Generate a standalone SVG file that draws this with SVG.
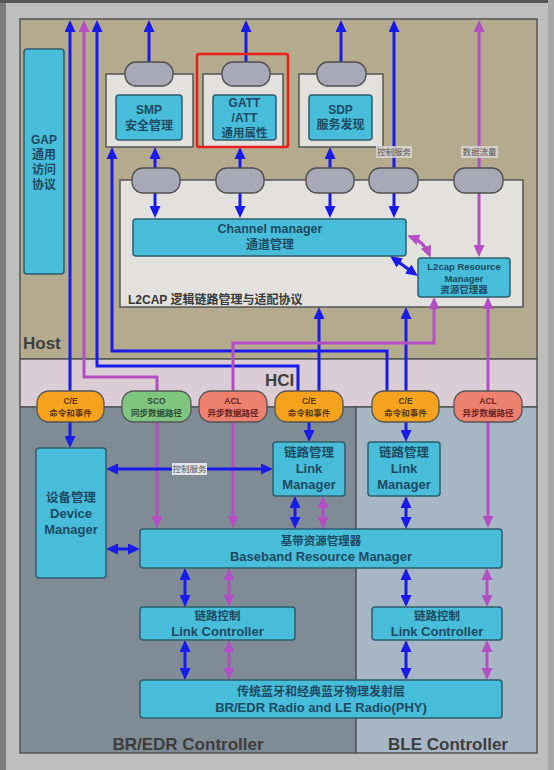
<svg xmlns="http://www.w3.org/2000/svg" width="554" height="770" viewBox="0 0 554 770">
<style>
.reg{stroke:#555;stroke-width:1.5}
.cont{fill:#e2e1de;stroke:#555;stroke-width:1.5}
.cap{fill:#a9a8b6;stroke:#505050;stroke-width:1.3}
.box{fill:#47bdd9;stroke:#2e5e6e;stroke-width:1.5}
.pill{stroke:#555;stroke-width:1.3}
.b{fill:none;stroke:#1a1aeb;stroke-width:3}
.m{fill:none;stroke:#b34ec5;stroke-width:3}
.t{font-family:"Liberation Sans","Noto Sans CJK SC",sans-serif;font-weight:bold;fill:#1e4a63;text-anchor:middle}
.big{font-family:"Liberation Sans","Noto Sans CJK SC",sans-serif;font-weight:bold;fill:#3d3d3d;font-size:17px}
.pt{font-family:"Liberation Sans","Noto Sans CJK SC",sans-serif;font-weight:bold;font-size:8.5px;text-anchor:middle}
.lbl{font-family:"Liberation Sans","Noto Sans CJK SC",sans-serif;font-size:8.5px;fill:#555;text-anchor:middle}
</style>
<defs>
<marker id="ab" viewBox="0 0 12 11" refX="8" refY="5.5" markerWidth="12" markerHeight="11" markerUnits="userSpaceOnUse" orient="auto-start-reverse"><path d="M0,0 L12,5.5 L0,11 z" fill="#1a1aeb"/></marker>
<marker id="am" viewBox="0 0 12 11" refX="8" refY="5.5" markerWidth="12" markerHeight="11" markerUnits="userSpaceOnUse" orient="auto-start-reverse"><path d="M0,0 L12,5.5 L0,11 z" fill="#b34ec5"/></marker>
</defs>

<g id="background">
<rect x="0" y="0" width="554" height="770" fill="#bebebe"/>
<rect x="0" y="0" width="6" height="770" fill="#7c7c7c"/>
<rect x="0" y="0" width="554" height="3" fill="#555"/>
<rect x="548" y="0" width="6" height="770" fill="#a8a8a8"/>
</g>

<g id="host-region"><rect class="reg" x="20" y="19" width="517" height="340" fill="#b4aa8e"/><text class="big" x="23" y="349">Host</text></g>
<g id="hci-region"><rect class="reg" x="20" y="359" width="517" height="48" fill="#dacdd5"/><text class="big" x="265" y="386">HCI</text></g>
<g id="bredr-region"><rect class="reg" x="20" y="407" width="336" height="346" fill="#7f8c96"/><text class="big" x="188" y="750" text-anchor="middle">BR/EDR Controller</text></g>
<g id="ble-region"><rect class="reg" x="356" y="407" width="181" height="346" fill="#a7b6c4"/><text class="big" x="388" y="750">BLE Controller</text></g>

<g id="gap"><rect class="box" x="24" y="49" width="40" height="225" rx="3"/>
<text class="t" font-size="12" x="44" y="144">GAP</text><text class="t" font-size="12" x="44" y="159">通用</text><text class="t" font-size="12" x="44" y="174">访问</text><text class="t" font-size="12" x="44" y="189">协议</text></g>

<g id="smp-container"><rect class="cont" x="106" y="74" width="87" height="73"/></g>
<g id="gatt-container"><rect class="cont" x="203" y="74" width="80" height="73"/></g>
<g id="sdp-container"><rect class="cont" x="299" y="74" width="84" height="73"/></g>
<g id="l2cap"><rect class="cont" x="120" y="180" width="403" height="127"/>
<text x="128" y="304" font-family="Liberation Sans, Noto Sans CJK SC, sans-serif" font-weight="bold" font-size="12" fill="#383838">L2CAP 逻辑链路管理与适配协议</text></g>

<g id="connectors">
<path class="b" d="M70,24 V444" marker-start="url(#ab)" marker-end="url(#ab)"/>
<path class="m" d="M84,24 V377 H157 V524" marker-start="url(#am)" marker-end="url(#am)"/>
<path class="b" d="M97,24 V366 H298 V398" marker-start="url(#ab)"/>
<path class="b" d="M112,151 V351 H387 V398" marker-start="url(#ab)"/>
<path class="b" d="M149,64 V24" marker-end="url(#ab)"/>
<path class="b" d="M246,64 V24" marker-end="url(#ab)"/>
<path class="b" d="M341,64 V24" marker-end="url(#ab)"/>
<path class="b" d="M394,172 V24" marker-end="url(#ab)"/>
<path class="m" d="M479,172 V24" marker-end="url(#am)"/>
<path class="b" d="M155,170 V151" marker-end="url(#ab)"/>
<path class="b" d="M240,170 V151" marker-end="url(#ab)"/>
<path class="b" d="M330,170 V151" marker-end="url(#ab)"/>
<path class="b" d="M155,191 V214" marker-end="url(#ab)"/>
<path class="b" d="M240,191 V214" marker-end="url(#ab)"/>
<path class="b" d="M330,191 V214" marker-end="url(#ab)"/>
<path class="b" d="M394,191 V214" marker-end="url(#ab)"/>
<path class="m" d="M479,191 V253" marker-end="url(#am)"/>
<path class="b" d="M393.3,258.3 L414.7,273.7" marker-start="url(#ab)" marker-end="url(#ab)"/>
<path class="m" d="M411,237 Q424,242 429,254" marker-start="url(#am)" marker-end="url(#am)"/>
<path class="b" d="M319,398 V311" marker-end="url(#ab)"/>
<path class="b" d="M406,311 V438" marker-start="url(#ab)" marker-end="url(#ab)"/>
<path class="m" d="M434,301 V343 H233 V524" marker-start="url(#am)" marker-end="url(#am)"/>
<path class="m" d="M488,301 V524" marker-start="url(#am)" marker-end="url(#am)"/>
<path class="b" d="M309,418 V438" marker-end="url(#ab)"/>
<path class="b" d="M110,469 H269" marker-start="url(#ab)" marker-end="url(#ab)"/>
<path class="b" d="M295,500 V525" marker-start="url(#ab)" marker-end="url(#ab)"/>
<path class="m" d="M323,500 V525" marker-start="url(#am)" marker-end="url(#am)"/>
<path class="b" d="M406,500 V525" marker-start="url(#ab)" marker-end="url(#ab)"/>
<path class="b" d="M110,549 H136" marker-start="url(#ab)" marker-end="url(#ab)"/>
<path class="b" d="M185,572 V603" marker-start="url(#ab)" marker-end="url(#ab)"/>
<path class="m" d="M229,572 V603" marker-start="url(#am)" marker-end="url(#am)"/>
<path class="b" d="M406,572 V603" marker-start="url(#ab)" marker-end="url(#ab)"/>
<path class="m" d="M487,572 V603" marker-start="url(#am)" marker-end="url(#am)"/>
<path class="b" d="M185,644 V676" marker-start="url(#ab)" marker-end="url(#ab)"/>
<path class="m" d="M229,644 V676" marker-start="url(#am)" marker-end="url(#am)"/>
<path class="b" d="M406,644 V676" marker-start="url(#ab)" marker-end="url(#ab)"/>
<path class="m" d="M487,644 V676" marker-start="url(#am)" marker-end="url(#am)"/>
<rect x="376" y="146" width="36" height="12" fill="#d8d6d2" opacity="0.85"/><text class="lbl" x="394" y="155">控制服务</text>
<rect x="461" y="146" width="37" height="12" fill="#d8d6d2" opacity="0.85"/><text class="lbl" x="479.5" y="155">数据流量</text>
<rect x="172" y="463" width="35" height="12" fill="#e4e4e8"/><text class="lbl" x="189.5" y="472">控制服务</text>
</g>

<g id="smp"><rect class="cap" x="125" y="62" width="48" height="24" rx="11"/><rect class="box" x="116" y="95" width="66" height="45" rx="3"/>
<text class="t" font-size="12" x="149" y="114">SMP</text><text class="t" font-size="12" x="149" y="130">安全管理</text></g>
<g id="gatt"><rect class="cap" x="222" y="62" width="48" height="24" rx="11"/><rect class="box" x="213" y="95" width="63" height="45" rx="3"/>
<text class="t" font-size="12" x="244.5" y="107">GATT</text><text class="t" font-size="12" x="244.5" y="122">/ATT</text><text class="t" font-size="11.5" x="244.5" y="137">通用属性</text></g>
<g id="sdp"><rect class="cap" x="317" y="62" width="49" height="24" rx="11"/><rect class="box" x="309" y="95" width="63" height="45" rx="3"/>
<text class="t" font-size="12" x="340.5" y="114">SDP</text><text class="t" font-size="12" x="340.5" y="129">服务发现</text></g>
<g id="highlight"><rect x="197" y="54" width="91" height="93" rx="2" fill="none" stroke="#e8201c" stroke-width="2.5"/></g>

<g id="l2cap-caps">
<rect class="cap" x="132" y="168" width="48" height="25" rx="11"/>
<rect class="cap" x="216" y="168" width="48" height="25" rx="11"/>
<rect class="cap" x="306" y="168" width="48" height="25" rx="11"/>
<rect class="cap" x="369" y="168" width="49" height="25" rx="11"/>
<rect class="cap" x="454" y="168" width="49" height="25" rx="11"/>
</g>
<g id="channel-manager"><rect class="box" x="133" y="219" width="273" height="37" rx="3"/>
<text class="t" font-size="12.5" x="270" y="233">Channel manager</text><text class="t" font-size="12" x="270" y="249">通道管理</text></g>
<g id="l2cap-resource-manager"><rect class="box" x="418" y="258" width="92" height="39" rx="3"/>
<text class="t" font-size="9.5" x="464" y="270">L2cap Resource</text><text class="t" font-size="9.5" x="464" y="281.5">Manager</text><text class="t" font-size="9.5" x="464" y="293">资源管理器</text></g>

<g id="ce1"><rect class="pill" x="37" y="391" width="67" height="31" rx="12" fill="#f5a31c"/><text class="pt" x="70.5" y="404" fill="#5a3a10">C/E</text><text class="pt" x="70.5" y="416" fill="#5a3a10">命令和事件</text></g>
<g id="sco"><rect class="pill" x="122" y="391" width="69" height="31" rx="12" fill="#7fc57f"/><text class="pt" x="156.5" y="404" fill="#2f4f30">SCO</text><text class="pt" x="156.5" y="416" fill="#2f4f30">同步数据路径</text></g>
<g id="acl1"><rect class="pill" x="199" y="391" width="68" height="31" rx="12" fill="#ee8070"/><text class="pt" x="233" y="404" fill="#6a2420">ACL</text><text class="pt" x="233" y="416" fill="#6a2420">异步数据路径</text></g>
<g id="ce2"><rect class="pill" x="275" y="391" width="68" height="31" rx="12" fill="#f5a31c"/><text class="pt" x="309" y="404" fill="#5a3a10">C/E</text><text class="pt" x="309" y="416" fill="#5a3a10">命令和事件</text></g>
<g id="ce3"><rect class="pill" x="372" y="391" width="67" height="31" rx="12" fill="#f5a31c"/><text class="pt" x="405.5" y="404" fill="#5a3a10">C/E</text><text class="pt" x="405.5" y="416" fill="#5a3a10">命令和事件</text></g>
<g id="acl2"><rect class="pill" x="454" y="391" width="68" height="31" rx="12" fill="#ee8070"/><text class="pt" x="488" y="404" fill="#6a2420">ACL</text><text class="pt" x="488" y="416" fill="#6a2420">异步数据路径</text></g>

<g id="device-manager"><rect class="box" x="36" y="448" width="70" height="130" rx="3"/>
<text class="t" font-size="12.5" x="71" y="502">设备管理</text><text class="t" font-size="13" x="71" y="518">Device</text><text class="t" font-size="13" x="71" y="533.5">Manager</text></g>
<g id="link-manager-bredr"><rect class="box" x="273" y="442" width="72" height="54" rx="3"/>
<text class="t" font-size="12.5" x="309" y="457">链路管理</text><text class="t" font-size="13" x="309" y="473">Link</text><text class="t" font-size="13" x="309" y="488.5">Manager</text></g>
<g id="link-manager-ble"><rect class="box" x="368" y="442" width="72" height="54" rx="3"/>
<text class="t" font-size="12.5" x="404" y="457">链路管理</text><text class="t" font-size="13" x="404" y="473">Link</text><text class="t" font-size="13" x="404" y="488.5">Manager</text></g>
<g id="baseband"><rect class="box" x="140" y="529" width="362" height="39" rx="3"/>
<text class="t" font-size="11.5" x="321" y="544.5">基带资源管理器</text><text class="t" font-size="13" x="321" y="560.5">Baseband Resource Manager</text></g>
<g id="link-controller-bredr"><rect class="box" x="140" y="607" width="155" height="33" rx="3"/>
<text class="t" font-size="11.5" x="217.5" y="620">链路控制</text><text class="t" font-size="13" x="217.5" y="635.5">Link Controller</text></g>
<g id="link-controller-ble"><rect class="box" x="372" y="607" width="130" height="33" rx="3"/>
<text class="t" font-size="11.5" x="437" y="620">链路控制</text><text class="t" font-size="13" x="437" y="635.5">Link Controller</text></g>
<g id="phy"><rect class="box" x="140" y="680" width="362" height="38" rx="3"/>
<text class="t" font-size="12" x="321" y="695.5">传统蓝牙和经典蓝牙物理发射层</text><text class="t" font-size="13" x="321" y="711.5">BR/EDR Radio and LE Radio(PHY)</text></g>
</svg>
